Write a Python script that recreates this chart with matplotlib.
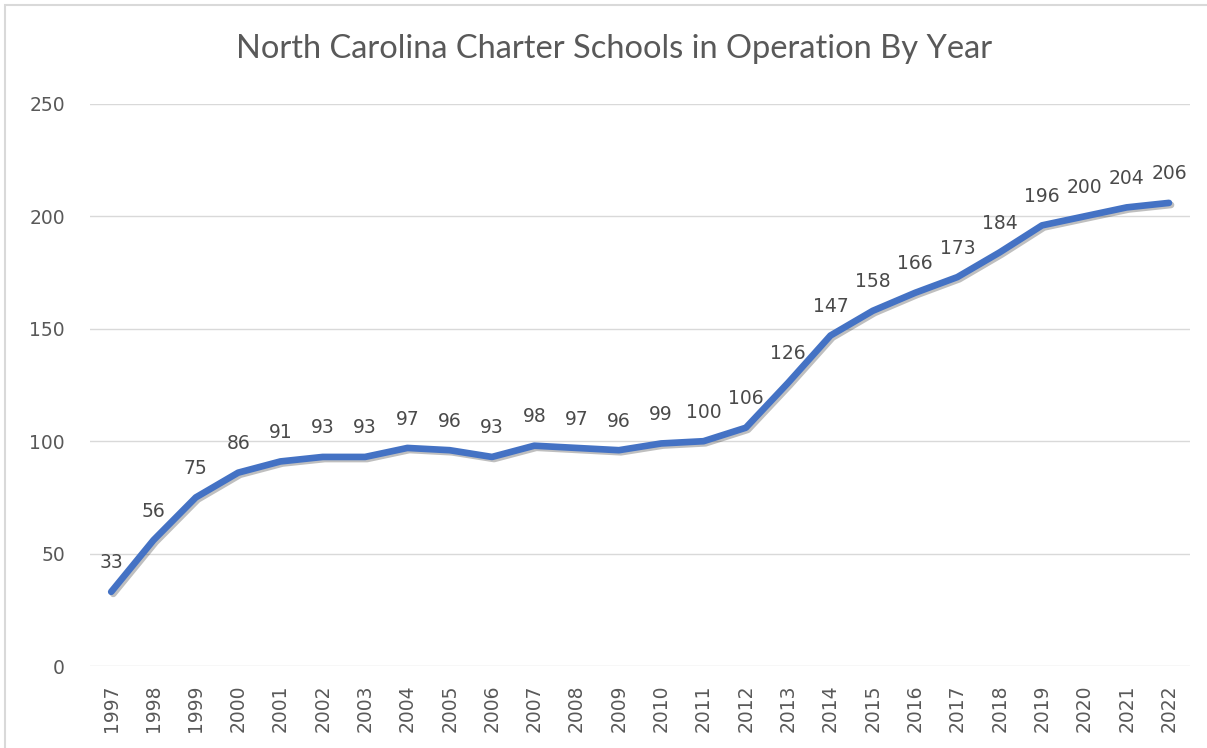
import matplotlib
matplotlib.use("Agg")
import matplotlib.pyplot as plt
import matplotlib.patheffects as pe
from matplotlib.patches import Rectangle

years = ["1997", "1998", "1999", "2000", "2001", "2002", "2003", "2004", "2005",
         "2006", "2007", "2008", "2009", "2010", "2011", "2012", "2013", "2014",
         "2015", "2016", "2017", "2018", "2019", "2020", "2021", "2022"]
schools = [33, 56, 75, 86, 91, 93, 93, 97, 96, 93, 98, 97, 96, 99, 100, 106,
           126, 147, 158, 166, 173, 184, 196, 200, 204, 206]
yticks = [0, 50, 100, 150, 200, 250]
title = "North Carolina Charter Schools in Operation By Year"

plt.rcParams['font.family'] = ['DejaVu Sans']

fig = plt.figure(figsize=(12.07, 7.48), dpi=100)
ax = fig.add_axes([0.0746, 0.1096, 0.9114, 0.7514])

x = list(range(len(years)))
ax.plot(x, schools, color="#4472C4", lw=4.8, solid_capstyle="round",
        solid_joinstyle="round", zorder=3,
        path_effects=[pe.SimpleLineShadow(offset=(1.5, -1.5), alpha=0.25, shadow_color="#000000"),
                      pe.Normal()])

for xi, v in zip(x, schools):
    ax.annotate(str(v), (xi, v), xytext=(0, 14), textcoords="offset points",
                ha="center", va="bottom", fontsize=13.5, color="#4a4a4a")

ax.set_xlim(-0.5, len(years) - 0.5)
ax.set_ylim(0, 250)
ax.set_yticks(yticks)
ax.set_xticks(x)
ax.set_xticklabels(years, rotation=90, fontsize=13.5, color="#595959")
ax.tick_params(axis="y", labelsize=13.5, labelcolor="#595959", length=0, pad=18)
ax.tick_params(axis="x", length=0, pad=13)
ax.grid(axis="y", color="#D9D9D9", lw=1)
ax.set_axisbelow(True)
for s in ax.spines.values():
    s.set_visible(False)

fig.text(0.509, 0.934, title, ha="center", va="center", fontsize=23.5, fontweight="normal",
         color="#595959", family=["Lato", "DejaVu Sans"])

fig.patches.append(Rectangle((0.004, -0.01), 1.1, 1.003, transform=fig.transFigure,
                             fill=False, edgecolor="#D9D9D9", lw=1.5))

fig.savefig("out.png", dpi=100, facecolor="white")
